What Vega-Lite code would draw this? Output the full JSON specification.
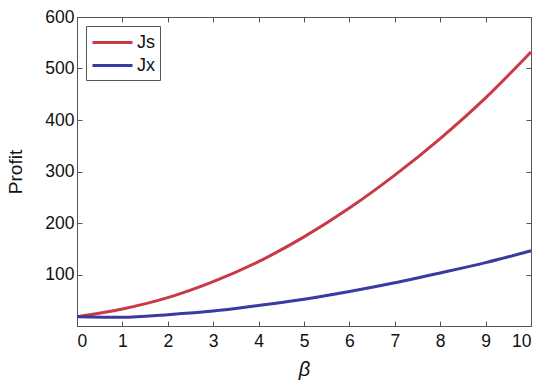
{
  "$schema": "https://vega.github.io/schema/vega-lite/v6.json",
  "width": 454,
  "height": 309,
  "autosize": {"type": "none"},
  "padding": {"left": 77, "top": 17, "right": 19, "bottom": 64},
  "background": "white",
  "config": {
    "view": {"stroke": "#555555", "strokeWidth": 1},
    "font": "Liberation Sans",
    "axis": {
      "grid": false,
      "domainColor": "#555555",
      "tickColor": "#555555",
      "tickSize": -5,
      "labelFontSize": 17.5,
      "labelColor": "#111111",
      "titleFontSize": 19,
      "titleFontWeight": "normal",
      "titleColor": "#111111"
    }
  },
  "data": {
    "values": [
      {"beta": 0, "profit": 18, "series": "Js"},
      {"beta": 1, "profit": 33, "series": "Js"},
      {"beta": 2, "profit": 55, "series": "Js"},
      {"beta": 3, "profit": 86, "series": "Js"},
      {"beta": 4, "profit": 125, "series": "Js"},
      {"beta": 5, "profit": 173, "series": "Js"},
      {"beta": 6, "profit": 229, "series": "Js"},
      {"beta": 7, "profit": 293, "series": "Js"},
      {"beta": 8, "profit": 364, "series": "Js"},
      {"beta": 9, "profit": 443, "series": "Js"},
      {"beta": 10, "profit": 532, "series": "Js"},
      {"beta": 0, "profit": 18, "series": "Jx"},
      {"beta": 1, "profit": 17, "series": "Jx"},
      {"beta": 2, "profit": 22, "series": "Jx"},
      {"beta": 3, "profit": 29, "series": "Jx"},
      {"beta": 4, "profit": 40, "series": "Jx"},
      {"beta": 5, "profit": 52, "series": "Jx"},
      {"beta": 6, "profit": 67, "series": "Jx"},
      {"beta": 7, "profit": 84, "series": "Jx"},
      {"beta": 8, "profit": 103, "series": "Jx"},
      {"beta": 9, "profit": 123, "series": "Jx"},
      {"beta": 10, "profit": 146, "series": "Jx"}
    ]
  },
  "layer": [
    {
      "mark": {"type": "line", "strokeWidth": 3, "interpolate": "monotone"},
      "encoding": {
        "x": {
          "field": "beta", "type": "quantitative",
          "scale": {"domain": [0, 10], "nice": false},
          "axis": {"title": "β", "titleFontStyle": "italic", "titleFontSize": 20, "values": [0,1,2,3,4,5,6,7,8,9,10], "labelPadding": 11, "titlePadding": 10}
        },
        "y": {
          "field": "profit", "type": "quantitative",
          "scale": {"domain": [0, 600], "nice": false},
          "axis": {"title": "Profit", "values": [100,200,300,400,500,600], "labelPadding": 8, "titleX": -62, "titleBaseline": "middle"}
        },
        "color": {
          "field": "series", "type": "nominal",
          "scale": {"domain": ["Js", "Jx"], "range": ["#c83a45", "#3a3aa0"]},
          "legend": {
            "title": null,
            "orient": "top-left",
            "offset": 9,
            "symbolType": "M-1,0H3",
            "symbolSize": 400,
            "symbolStrokeWidth": 3,
            "labelFontSize": 18,
            "labelColor": "#111111",
            "labelOffset": 23,
            "strokeColor": "#555555",
            "fillColor": "white",
            "padding": 5,
            "rowPadding": 2
          }
        }
      }
    },
    {
      "mark": {"type": "rule", "opacity": 0},
      "encoding": {
        "x": {"datum": 0, "type": "quantitative", "axis": {"orient": "top", "labels": false, "title": null, "values": [0,1,2,3,4,5,6,7,8,9,10]}},
        "y": {"datum": 0, "type": "quantitative", "axis": {"orient": "right", "labels": false, "title": null, "values": [100,200,300,400,500,600]}}
      }
    }
  ],
  "resolve": {"axis": {"x": "independent", "y": "independent"}}
}
